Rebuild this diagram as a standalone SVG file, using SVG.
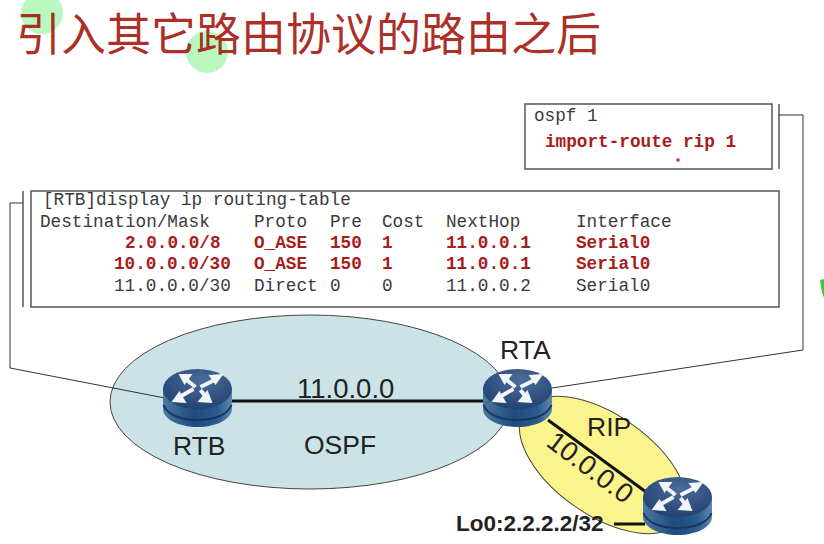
<svg xmlns="http://www.w3.org/2000/svg" xmlns:xlink="http://www.w3.org/1999/xlink" width="824" height="544" viewBox="0 0 824 544">
<style>
.mono{font-family:"Liberation Mono",monospace;font-size:17.7px;fill:#3a3a3a}
.red{font-weight:bold;fill:#a81c1c}
.lab{font-family:"Liberation Sans",Arial,sans-serif;font-size:26.500px;fill:#222}
.box{fill:#fff;stroke:#555;stroke-width:1.5}
.thin{fill:none;stroke:#333;stroke-width:1}
.brk{fill:none;stroke:#555;stroke-width:1.500}
.wire{fill:none;stroke:#111;stroke-width:3}
</style>
<defs>
<linearGradient id="side" x1="0" x2="1" y1="0" y2="0"><stop offset="0" stop-color="#4d76a0"/><stop offset=".45" stop-color="#1f4a7c"/><stop offset=".8" stop-color="#2c5c92"/><stop offset="1" stop-color="#6288ad"/></linearGradient>
<radialGradient id="top" cx=".55" cy=".3" r=".75"><stop offset="0" stop-color="#4a6d98"/><stop offset="1" stop-color="#203f70"/></radialGradient>
<g id="router">
<path d="M-34.500 -9V11C-34.500 21 -19 29 0 29S34.500 21 34.500 11V-9Z" fill="url(#side)"/>
<path d="M-34 7C-30 17 -17 22 0 22S30 17 34 7" fill="none" stroke="#16375f" stroke-width="2"/>
<ellipse cx="0" cy="-9" rx="34.500" ry="20" fill="url(#top)"/>
<g fill="none" stroke="#f2f5fa" stroke-width="3.800">
<path d="M-12 -19L-2 -11M19 -19L3 -11M-18 -1L-4 -9M9 0L3 -8"/>
</g>
<g fill="#f2f5fa">
<path d="M-19 -24L-5 -24L-13 -13Z"/><path d="M26 -24L11 -23L18 -13Z"/><path d="M-26 4L-11 5L-18 -7Z"/><path d="M15 5L0 4L10 -8Z"/>
</g>
</g>
</defs>
<rect width="824" height="544" fill="#fff"/>
<circle cx="42" cy="13" r="21" fill="#b9f8c0"/>
<circle cx="207" cy="52" r="21" fill="#b9f8c0"/>
<text x="16" y="51" font-family="'Noto Sans CJK SC',sans-serif" font-size="45" font-weight="400" fill="#a51a12" fill-opacity=".92">引入其它路由协议的路由之后</text>
<path d="M820 280L824 279V298L822 292Z" fill="#3fc83f"/>

<g id="ospf-area"><ellipse cx="310" cy="402" rx="200" ry="87" fill="#cbe2e7" stroke="#444" stroke-width="1"/></g>
<g id="rip-area"><ellipse cx="603" cy="465" rx="96" ry="50" transform="rotate(35 603 465)" fill="#fbf48c" stroke="#444" stroke-width="1"/></g>

<g id="connectors">
<path class="brk" d="M23 191V307"/>
<path class="thin" d="M23 203H10V368L165 398"/>
<path class="brk" d="M779 104V169"/>
<path class="thin" d="M779 115H803V350L552 388"/>
</g>

<g id="config-box">
<rect class="box" x="525" y="104" width="247" height="65"/>
<text class="mono" x="534" y="121">ospf 1</text>
<text class="mono red" x="545" y="147">import-route rip 1</text>
<circle cx="678" cy="160" r="1.800" fill="#e0204a"/>
</g>

<g id="routing-table">
<rect class="box" x="31" y="191" width="748" height="116"/>
<text class="mono" x="43" y="205">[RTB]display ip routing-table</text>
<g class="mono">
<text x="40" y="227">Destination/Mask</text><text x="254" y="227">Proto</text><text x="330" y="227">Pre</text><text x="382" y="227">Cost</text><text x="446" y="227">NextHop</text><text x="576" y="227">Interface</text>
<text x="114" y="291">11.0.0.0/30</text><text x="254" y="291">Direct</text><text x="330" y="291">0</text><text x="382" y="291">0</text><text x="446" y="291">11.0.0.2</text><text x="576" y="291">Serial0</text>
</g>
<g class="mono red">
<text x="125" y="248">2.0.0.0/8</text><text x="254" y="248">O_ASE</text><text x="330" y="248">150</text><text x="382" y="248">1</text><text x="446" y="248">11.0.0.1</text><text x="576" y="248">Serial0</text>
<text x="114" y="269">10.0.0.0/30</text><text x="254" y="269">O_ASE</text><text x="330" y="269">150</text><text x="382" y="269">1</text><text x="446" y="269">11.0.0.1</text><text x="576" y="269">Serial0</text>
</g>
</g>

<g id="links">
<path class="wire" d="M230 401H484M548 420L646 492M614 524H645"/>
</g>

<g id="RTB"><use xlink:href="#router" href="#router" x="197.500" y="398"/><text class="lab" x="173" y="455">RTB</text></g>
<g id="RTA"><use xlink:href="#router" href="#router" x="517.500" y="398"/><text class="lab" x="500" y="359">RTA</text></g>
<g id="R3"><use xlink:href="#router" href="#router" x="677.500" y="506"/></g>

<text class="lab" x="297" y="398" style="font-size:27.500px">11.0.0.0</text>
<text class="lab" x="304" y="454">OSPF</text>
<text class="lab" x="587" y="436">RIP</text>
<text class="lab" transform="translate(545 445) rotate(37)" style="font-size:27.500px">10.0.0.0</text>
<text x="456" y="531" font-family="'Liberation Sans',Arial,sans-serif" font-size="22.500px" font-weight="bold" fill="#222">Lo0:2.2.2.2/32</text>
</svg>
